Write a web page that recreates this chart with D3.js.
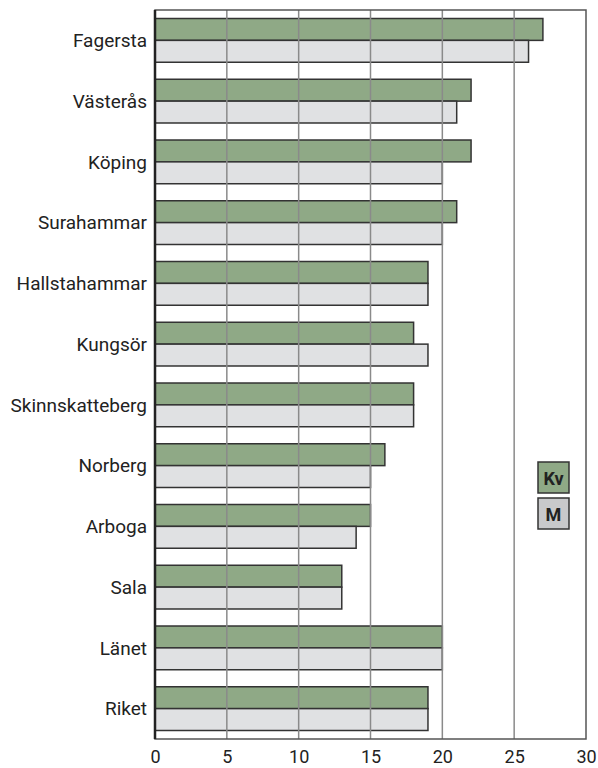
<!DOCTYPE html>
<html>
<head>
<meta charset="utf-8">
<script src="https://cdn.jsdelivr.net/npm/d3@7"></script>
<style>
  body { margin: 0; background: #fff; }
  text { font-family: Roboto, "Noto Sans", sans-serif; fill: #222; }
</style>
</head>
<body>
<div id="viz"></div>
<script>
// kommuner, top to bottom
const places = ["Fagersta", "Västerås", "Köping", "Surahammar", "Hallstahammar", "Kungsör",
  "Skinnskatteberg", "Norberg", "Arboga", "Sala", "Länet", "Riket"];
const kv = [27, 22, 22, 21, 19, 18, 18, 16, 15, 13, 20, 19];
const m  = [26, 21, 20, 20, 19, 19, 18, 15, 14, 13, 20, 19];
const ticks = [0, 5, 10, 15, 20, 25, 30];
const seriesNames = ["Kv", "M"];

const width = 598, height = 768;
const margin = {top: 10, right: 12, bottom: 29, left: 155};

const svg = d3.select('#viz').append('svg')
  .attr('width', width)
  .attr('height', height);

const x = d3.scaleLinear()
  .domain([0, 30])
  .range([margin.left, width - margin.right]);

const y = d3.scaleBand()
  .domain(places)
  .range([margin.top, height - margin.bottom])
  .paddingInner(0.28)
  .paddingOuter(0.14);

const sub = d3.scaleBand()
  .domain(seriesNames)
  .range([0, y.bandwidth()]);

const colors = {Kv: "#8fa986", M: "#e0e1e3"};

// bars
const rows = places.map((p, i) => ({place: p, Kv: kv[i], M: m[i]}));
const g = svg.append('g');
rows.forEach(d => {
  seriesNames.forEach(s => {
    g.append('rect')
      .attr('x', x(0))
      .attr('y', y(d.place) + sub(s))
      .attr('width', x(d[s]) - x(0))
      .attr('height', sub.bandwidth())
      .attr('fill', colors[s])
      .attr('stroke', '#333')
      .attr('stroke-width', 1.5);
  });
});

// gridlines on top of bars
svg.append('g')
  .selectAll('line')
  .data(ticks.slice(1, -1))
  .join('line')
  .attr('x1', d => x(d)).attr('x2', d => x(d))
  .attr('y1', margin.top).attr('y2', height - margin.bottom)
  .attr('stroke', '#8a8a8a')
  .attr('stroke-width', 1.5);

// frame
svg.append('rect')
  .attr('x', x(0)).attr('y', margin.top)
  .attr('width', x(30) - x(0))
  .attr('height', height - margin.bottom - margin.top)
  .attr('fill', 'none')
  .attr('stroke', '#555')
  .attr('stroke-width', 1.5);
svg.append('line')
  .attr('x1', x(0)).attr('x2', x(0))
  .attr('y1', margin.top).attr('y2', height - margin.bottom)
  .attr('stroke', '#222')
  .attr('stroke-width', 2.5);

// x axis labels
const xAxis = svg.append('g')
  .attr('transform', `translate(0,${height - margin.bottom})`)
  .call(d3.axisBottom(x).tickValues(ticks).tickSize(0).tickPadding(11));
xAxis.select('.domain').remove();
xAxis.selectAll('text').style('font-size', '18px').attr('fill', '#2a2a2a')
  .style('font-family', 'Roboto, sans-serif');

// y axis labels
const yAxis = svg.append('g')
  .attr('transform', `translate(${margin.left},0)`)
  .call(d3.axisLeft(y).tickSize(0).tickPadding(8));
yAxis.select('.domain').remove();
yAxis.selectAll('text').style('font-size', '19px').attr('fill', '#2a2a2a')
  .attr('dy', '0.36em')
  .style('font-family', 'Roboto, sans-serif');

// legend
const legFill = {Kv: "#8fa986", M: "#c8c9cb"};
seriesNames.forEach((s, i) => {
  const lg = svg.append('g').attr('transform', `translate(538,${462 + i * 36})`);
  lg.append('rect').attr('width', 31).attr('height', 31)
    .attr('fill', legFill[s]).attr('stroke', '#333').attr('stroke-width', 1.5);
  lg.append('text').attr('x', 15.5).attr('y', 22.5)
    .attr('text-anchor', 'middle')
    .style('font-size', '18px').style('font-weight', 'bold')
    .text(s);
});
</script>
</body>
</html>
